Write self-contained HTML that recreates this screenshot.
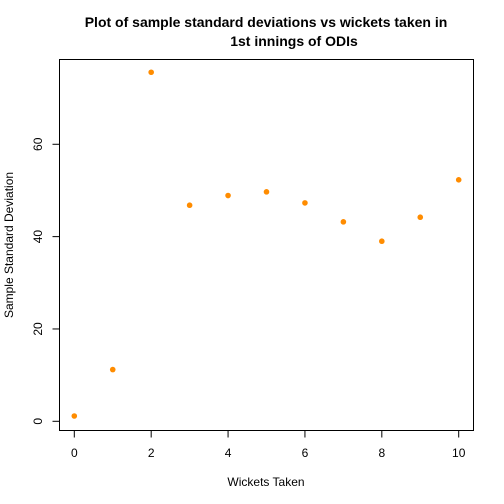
<!DOCTYPE html>
<html><head><meta charset="utf-8"><style>body{margin:0;background:#fff}svg{display:block}text{font-family:"Liberation Sans",Arial,sans-serif;fill:#000}</style></head>
<body>
<svg id="chart" width="504" height="504" viewBox="0 0 504 504">
<text x="266" y="27" text-anchor="middle" font-size="14" font-weight="bold">Plot of sample standard deviations vs wickets taken in</text>
<text x="294" y="46" text-anchor="middle" font-size="14" font-weight="bold">1st innings of ODIs</text>
<rect x="59.5" y="59.5" width="414" height="371" fill="none" stroke="#000" stroke-width="1"/>
<g id="xaxis"></g>
<g id="yaxis"></g>
<g id="points"></g>
<text x="266" y="486" text-anchor="middle" font-size="12">Wickets Taken</text>
<text transform="translate(13,245) rotate(-90)" text-anchor="middle" font-size="12">Sample Standard Deviation</text>
</svg>
<script>
const wickets=[0,1,2,3,4,5,6,7,8,9,10];
const sds=[1.15,11.2,75.6,46.8,48.9,49.7,47.3,43.2,39.0,44.2,52.3];
const xTicks=[0,2,4,6,8,10];
const yTicks=[0,20,40,60];
const NS="http://www.w3.org/2000/svg";
const sx=v=>74.3+v*38.44;
const sy=v=>421.3-v*4.617;
function mk(t,a){const e=document.createElementNS(NS,t);for(const k in a)e.setAttribute(k,a[k]);return e;}
const xa=document.getElementById('xaxis'),ya=document.getElementById('yaxis'),pg=document.getElementById('points');
xTicks.forEach(v=>{
 const l=mk('line',{x1:sx(v),x2:sx(v),y1:430.5,y2:437.5,stroke:'#000'});
 
 
 xa.appendChild(l);
 const t=mk('text',{x:sx(v),y:457,'text-anchor':'middle','font-size':12});
 
 
 t.textContent=v;xa.appendChild(t);
});
yTicks.forEach(v=>{
 const l=mk('line',{x1:52.5,x2:59.5,y1:sy(v),y2:sy(v),stroke:'#000'});
 
 
 ya.appendChild(l);
 const t=mk('text',{transform:`translate(42,${sy(v)}) rotate(-90)`,'text-anchor':'middle','font-size':12});
 
 
 t.textContent=v;ya.appendChild(t);
});
wickets.forEach((w,i)=>{
 const c=mk('circle',{cx:sx(w),cy:sy(sds[i]),r:2.8,fill:'#ff8c00'});
 
 
 pg.appendChild(c);
});
</script>
</body></html>
